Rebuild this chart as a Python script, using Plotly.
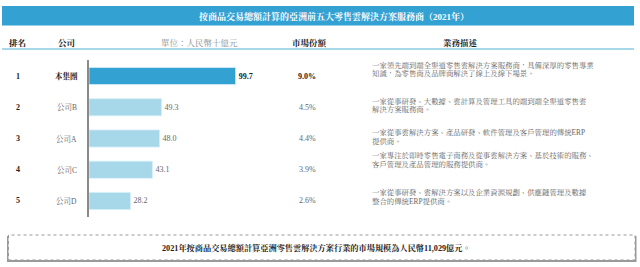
import plotly.graph_objects as go

W, H = 640, 267

title = "按商品交易總額計算的亞洲前五大零售雲解決方案服務商（2021年）"
col_headers = ["排名", "公司", "單位：人民幣十億元", "市場份額", "業務描述"]
ranks = [1, 2, 3, 4, 5]
companies = ["本集團", "公司B", "公司A", "公司C", "公司D"]
values = [99.7, 49.3, 48.0, 43.1, 28.2]
shares = ["9.0%", "4.5%", "4.4%", "3.9%", "2.6%"]
desc_line1 = [
    "一家領先端到端全渠道零售雲解決方案服務商，具備深厚的零售專業",
    "一家從事研發、大數據、雲計算及管理工具的端到端全渠道零售雲",
    "一家從事雲解決方案、產品研發、軟件管理及客戶管理的傳統ERP",
    "一家專注於即時零售電子商務及從事雲解決方案、基於技術的服務、",
    "一家從事研發、雲解決方案以及企業資源規劃、供應鏈管理及數據",
]
desc_line2 = [
    "知識，為零售商及品牌商解決了線上及線下場景。",
    "解決方案服務商。",
    "提供商。",
    "客戶管理及產品管理的服務提供商。",
    "整合的傳統ERP提供商。",
]
footer = "2021年按商品交易總額計算亞洲零售雲解決方案行業的市場規模為人民幣11,029億元。"

FONT = "Liberation Serif, Noto Serif CJK TC, Noto Sans CJK TC, serif"
DARK = "#222222"
GRAY = "#666666"
BLUE = "#34a1d3"
LIGHT = "#a6d8ea"

def px(x):
    return x / W

def py(y):
    return 1 - y / H

bar_colors = [BLUE] + [LIGHT] * (len(values) - 1)
bar_text = [("<b>%.1f</b>" if i == 0 else "%.1f") % v for i, v in enumerate(values)]
text_colors = [DARK] + [GRAY] * (len(values) - 1)

fig = go.Figure()
fig.add_trace(go.Bar(
    x=values, y=ranks, orientation="h", width=0.55,
    marker=dict(color=bar_colors, line=dict(color="#d8eff8", width=0.8)),
    text=bar_text, textposition="outside", cliponaxis=False,
    textfont=dict(family=FONT, size=8, color=text_colors),
    hoverinfo="skip",
))

x0_px, x1_px = 89, 89 + 1.471 * 100
fig.update_layout(
    width=W, height=H, margin=dict(l=0, r=0, t=0, b=0),
    paper_bgcolor="white", plot_bgcolor="white", showlegend=False,
    xaxis=dict(domain=[px(x0_px), px(x1_px)], range=[0, 100], visible=False, fixedrange=True),
    yaxis=dict(domain=[py(216.6), py(60.4)], range=[5.5, 0.5], showline=True,
               linecolor="#8a8a8a", linewidth=1.5, showgrid=False, zeroline=False,
               showticklabels=False, ticks="", fixedrange=True),
)

shapes = []
annotations = []

def ann(x, y, text, size, color, xanchor="center", yref="paper", yshift=0):
    annotations.append(dict(xref="paper", yref=yref, x=x, y=y, text=text, showarrow=False,
                            xanchor=xanchor, yanchor="middle", yshift=yshift,
                            font=dict(family=FONT, size=size, color=color)))

# header bar
shapes.append(dict(type="rect", xref="paper", yref="paper", x0=px(2), x1=px(634),
                   y0=py(25.5), y1=py(6), fillcolor=BLUE, line=dict(width=0), layer="below"))
ann(px(334), py(16), "<b>%s</b>" % title, 9, "white")
# column headers
hdr_x = [17.5, 66.5, 199.5, 309.5, 460]
for i, (t, hx) in enumerate(zip(col_headers, hdr_x)):
    bold = i != 2
    ann(px(hx), py(43), ("<b>%s</b>" % t) if bold else t, 8.5, DARK if bold else "#8c8c8c")
shapes.append(dict(type="line", xref="paper", yref="paper", x0=px(2), x1=px(634),
                   y0=py(49), y1=py(49), line=dict(color=LIGHT, width=2)))

desc_offsets = [-6.5, -1.6, -1.5, -9.8, -4.1]
for i, r in enumerate(ranks):
    ann(px(17.5), r, "<b>%d</b>" % r, 8, DARK, yref="y")
    ann(px(66.5), r, ("<b>%s</b>" % companies[i]) if i == 0 else companies[i], 7.5,
        DARK if i == 0 else GRAY, yref="y")
    ann(px(318), r, ("<b>%s</b>" % shares[i]) if i == 0 else shares[i], 8,
        DARK if i == 0 else GRAY, xanchor="right", yref="y")
    off = desc_offsets[i]
    for ln, dy in ((desc_line1[i], off - 4.2), (desc_line2[i], off + 4.2)):
        ann(px(370), r, ln, 7.4, GRAY, xanchor="left", yref="y", yshift=-dy)

# footer box with shadow
shapes.append(dict(type="rect", xref="paper", yref="paper", x0=px(7), x1=px(636.5),
                   y0=py(262), y1=py(236), fillcolor="#9a9a9a", line=dict(width=0), layer="below"))
shapes.append(dict(type="rect", xref="paper", yref="paper", x0=px(8.5), x1=px(635),
                   y0=py(260), y1=py(235), fillcolor="white",
                   line=dict(color="#9a9a9a", width=1, dash="dot"), layer="below"))
ann(px(316.5), py(248), "<b>%s</b>" % footer, 8.2, DARK)

fig.update_layout(shapes=shapes, annotations=annotations)
fig.write_html("out.html", config={"displayModeBar": False})
